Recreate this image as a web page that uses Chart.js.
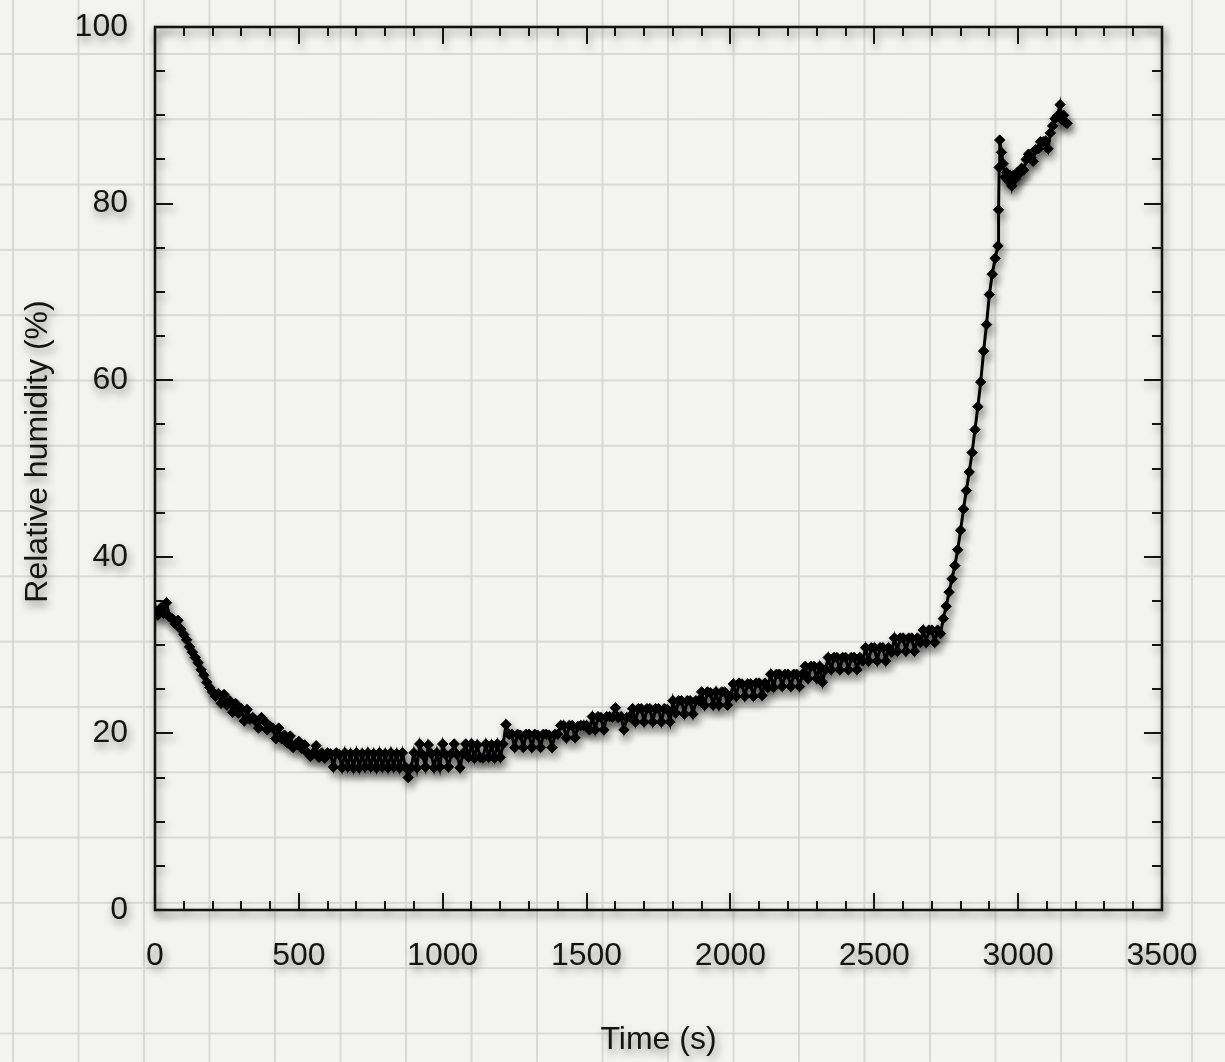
<!DOCTYPE html>
<html><head><meta charset="utf-8">
<script src="https://cdn.jsdelivr.net/npm/chart.js@4.4.0/dist/chart.umd.min.js"></script>
<style>
html,body{margin:0;padding:0;}
body{width:1225px;height:1062px;overflow:hidden;background-color:#f3f3f1;
background-image:linear-gradient(to right, rgba(208,208,208,0.75) 2px, transparent 2px),linear-gradient(to bottom, rgba(208,208,208,0.75) 2px, transparent 2px);
background-size:65.5px 65.3px;background-position:12px 53px;}
#wrap{position:absolute;left:0;top:0;width:1225px;height:1062px;}
</style></head><body><div id="wrap"><canvas id="c" width="1225" height="1062"></canvas></div>
<script>
const timeSeconds = [
0,10,20,30,40,50,60,70,80,90,
100,110,120,130,140,150,160,170,180,190,
200,210,220,230,240,250,260,270,280,290,
300,310,320,330,340,350,360,370,380,390,
400,410,420,430,440,450,460,470,480,490,
500,510,520,530,540,550,560,570,580,590,
600,610,620,630,640,650,660,670,680,690,
700,710,720,730,740,750,760,770,780,790,
800,810,820,830,840,850,860,870,880,890,
900,910,920,930,940,950,960,970,980,990,
1000,1010,1020,1030,1040,1050,1060,1070,1080,1090,
1100,1110,1120,1130,1140,1150,1160,1170,1180,1190,
1200,1210,1220,1230,1240,1250,1260,1270,1280,1290,
1300,1310,1320,1330,1340,1350,1360,1370,1380,1390,
1400,1410,1420,1430,1440,1450,1460,1470,1480,1490,
1500,1510,1520,1530,1540,1550,1560,1570,1580,1590,
1600,1610,1620,1630,1640,1650,1660,1670,1680,1690,
1700,1710,1720,1730,1740,1750,1760,1770,1780,1790,
1800,1810,1820,1830,1840,1850,1860,1870,1880,1890,
1900,1910,1920,1930,1940,1950,1960,1970,1980,1990,
2000,2010,2020,2030,2040,2050,2060,2070,2080,2090,
2100,2110,2120,2130,2140,2150,2160,2170,2180,2190,
2200,2210,2220,2230,2240,2250,2260,2270,2280,2290,
2300,2310,2320,2330,2340,2350,2360,2370,2380,2390,
2400,2410,2420,2430,2440,2450,2460,2470,2480,2490,
2500,2510,2520,2530,2540,2550,2560,2570,2580,2590,
2600,2610,2620,2630,2640,2650,2660,2670,2680,2690,
2700,2710,2720,2730,
2740,2750,2760,2770,2780,2790,2800,2810,2820,2830,2840,2850,2860,2870,2880,2890,2900,2910,2920,2930,
2932,2934,2936,2942,2948,2954,2960,2966,2972,2978,2984,2990,2996,3004,3012,3020,3028,3036,3044,3052,
3060,3070,3078,3088,3096,3104,3112,3120,3128,3136,3146,3152,3158,3164,3170
];
const relativeHumidity = [
34.0,33.4,34.2,33.6,34.8,33.2,33.0,32.4,32.8,31.8,
31.2,30.6,29.8,29.2,28.6,28.0,27.2,26.6,25.8,25.2,
24.7,24.2,24.5,23.4,24.4,23.2,23.7,22.4,23.4,22.3,
22.8,21.4,22.7,21.6,21.8,21.4,20.6,21.8,21.4,20.4,
20.8,20.6,19.4,20.6,19.4,19.8,18.9,19.7,18.4,18.8,
19.1,18.3,18.7,17.8,17.4,17.8,18.6,17.3,17.8,17.2,
17.8,17.7,16.2,17.8,17.6,16.1,17.8,16.2,17.7,16.1,
17.8,16.1,17.7,16.2,17.8,16.2,17.7,16.1,17.8,16.2,
17.7,16.1,17.8,16.2,17.7,16.1,17.8,16.2,15.0,16.1,
17.8,16.1,18.8,17.6,16.2,18.7,17.7,16.1,17.8,16.2,
18.8,17.6,16.2,17.7,18.8,17.6,16.1,17.7,18.8,17.3,
18.8,17.2,18.7,17.3,17.2,18.8,17.3,18.7,17.2,18.8,
17.3,18.8,21.0,19.9,19.9,18.4,19.9,19.8,18.4,19.9,
19.9,18.4,19.9,19.8,18.4,19.9,19.9,19.8,18.4,19.9,
19.9,20.9,20.9,19.5,20.9,20.9,19.5,20.8,20.9,20.9,
20.9,20.4,21.9,20.4,21.9,21.8,20.4,21.9,21.9,21.8,
22.9,21.8,21.9,20.4,21.8,21.9,22.8,21.3,22.8,22.8,
21.3,22.8,22.8,21.3,22.8,22.8,21.3,22.8,22.7,21.3,
23.7,22.3,23.7,23.7,22.2,23.7,23.7,22.2,23.7,23.7,
24.7,23.2,24.7,24.6,23.2,24.7,23.2,24.7,24.7,23.2,
24.2,25.6,24.2,25.7,25.6,24.2,25.6,25.6,24.2,25.7,
25.7,24.3,25.7,25.2,26.7,25.2,26.7,26.7,25.3,26.7,
26.7,25.3,26.7,26.7,25.3,26.7,27.6,26.2,27.6,27.6,
26.2,27.6,25.8,27.2,28.6,27.2,28.6,28.6,27.2,28.6,
28.6,27.2,28.6,28.6,27.2,28.6,28.2,29.7,28.2,29.7,
29.7,28.2,29.7,29.7,28.2,29.7,29.2,30.8,29.3,30.8,
30.8,29.3,30.8,30.8,29.3,30.8,30.3,31.7,30.3,31.7,
31.7,30.3,31.7,31.3,
33.0,34.4,36.0,37.5,39.0,40.8,43.0,45.4,47.5,49.6,51.8,54.4,57.0,59.8,63.3,66.3,69.7,72.0,73.8,75.2,
79.3,84.1,87.2,85.8,84.5,83.0,83.5,82.6,83.2,82.0,83.2,82.8,83.5,83.4,84.0,83.8,85.0,85.6,85.2,84.8,
86.1,86.2,87.0,87.0,87.1,86.2,88.0,88.8,89.6,89.9,91.2,89.5,90.0,89.2,89.1
];
const xTickValues = [0,500,1000,1500,2000,2500,3000,3500];
const yTickValues = [0,20,40,60,80,100];
const xMinorStep = 100;
const yMinorStep = 5;
const xAxisTitle = 'Time (s)';
const yAxisTitle = 'Relative humidity (%)';

const FONT = '"Liberation Sans", Arial, Helvetica, sans-serif';
const INK = '#141414';

const shadowPlugin = {
  id: 'shadow',
  beforeDraw(chart) {
    const ctx = chart.ctx;
    ctx.shadowColor = 'rgba(0,0,0,0.45)';
    ctx.shadowBlur = 8;
    ctx.shadowOffsetX = 2;
    ctx.shadowOffsetY = 5;
  },
  afterDraw(chart) {
    const ctx = chart.ctx;
    const a = chart.chartArea;
    ctx.save();
    ctx.fillStyle = INK;
    ctx.font = '32px ' + FONT;
    ctx.textAlign = 'center';
    ctx.textBaseline = 'middle';
    ctx.fillText(xAxisTitle, (a.left + a.right) / 2, a.bottom + 130);
    ctx.translate(a.left - 117, (a.top + a.bottom) / 2 - 17);
    ctx.rotate(-Math.PI / 2);
    ctx.fillText(yAxisTitle, 0, 0);
    ctx.restore();
    ctx.shadowColor = 'rgba(0,0,0,0)';
    ctx.shadowBlur = 0;
    ctx.shadowOffsetX = 0;
    ctx.shadowOffsetY = 0;
  }
};

const framePlugin = {
  id: 'frame',
  beforeDatasetsDraw(chart) {
    const ctx = chart.ctx;
    const a = chart.chartArea;
    const xs = chart.scales.x, ys = chart.scales.y;
    ctx.save();
    ctx.strokeStyle = INK;
    ctx.lineCap = 'butt';
    ctx.lineWidth = 2;
    ctx.beginPath();
    for (let v = xs.min; v <= xs.max + 1e-6; v += xMinorStep) {
      const major = xTickValues.includes(v);
      const len = major ? 17 : 9;
      const px = Math.round(xs.getPixelForValue(v));
      ctx.moveTo(px, a.bottom); ctx.lineTo(px, a.bottom - len);
      ctx.moveTo(px, a.top); ctx.lineTo(px, a.top + len);
    }
    for (let v = ys.min; v <= ys.max + 1e-6; v += yMinorStep) {
      const major = yTickValues.includes(v);
      const len = major ? 18 : 10;
      const py = Math.round(ys.getPixelForValue(v));
      ctx.moveTo(a.left, py); ctx.lineTo(a.left + len, py);
      ctx.moveTo(a.right, py); ctx.lineTo(a.right - len, py);
    }
    ctx.stroke();
    ctx.lineWidth = 2.6;
    ctx.strokeRect(a.left, a.top, a.right - a.left, a.bottom - a.top);
    ctx.restore();
  }
};

const points = timeSeconds.map((t, i) => ({ x: t, y: relativeHumidity[i] }));

new Chart(document.getElementById('c'), {
  type: 'scatter',
  data: {
    datasets: [{
      data: points,
      showLine: true,
      borderColor: '#000',
      borderWidth: 3,
      tension: 0,
      pointStyle: 'rectRot',
      pointRadius: 5.2,
      pointBackgroundColor: '#000',
      pointBorderColor: '#000',
      pointBorderWidth: 1
    }]
  },
  options: {
    responsive: false,
    animation: false,
    devicePixelRatio: 1,
    layout: { padding: { top: 27, right: 63, left: 0, bottom: 0 } },
    plugins: { legend: { display: false }, tooltip: { enabled: false } },
    scales: {
      x: {
        type: 'linear', min: 0, max: 3500,
        afterBuildTicks: s => { s.ticks = xTickValues.map(v => ({ value: v })); },
        afterFit: s => { s.height = 152; s.paddingLeft = 0; s.paddingRight = 0; },
        ticks: { color: INK, font: { family: FONT, size: 32 }, padding: 27, maxRotation: 0, autoSkip: false, callback: v => String(v) },
        grid: { display: false, drawTicks: false },
        border: { display: false }
      },
      y: {
        type: 'linear', min: 0, max: 100,
        afterBuildTicks: s => { s.ticks = yTickValues.map(v => ({ value: v })); },
        afterFit: s => { s.width = 155; s.paddingTop = 0; s.paddingBottom = 0; },
        ticks: { color: INK, font: { family: FONT, size: 32 }, padding: 27, autoSkip: false, callback: v => String(v) },
        grid: { display: false, drawTicks: false },
        border: { display: false }
      }
    }
  },
  plugins: [shadowPlugin, framePlugin]
});
</script>
</body></html>
